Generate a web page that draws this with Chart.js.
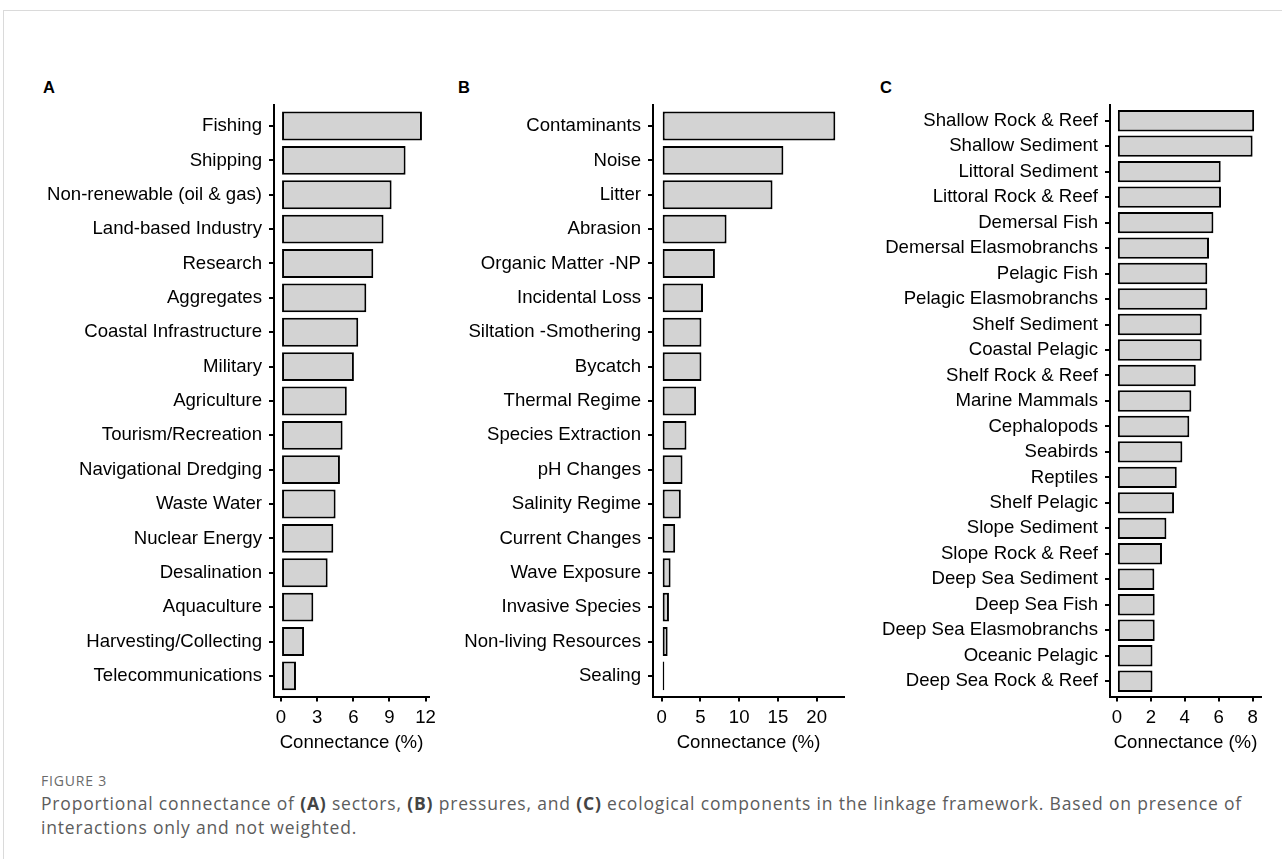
<!DOCTYPE html>
<html lang="en">
<head>
<meta charset="UTF-8">
<title>Figure 3 - Proportional connectance</title>
<script src="https://cdn.jsdelivr.net/npm/chart.js"></script>
<style>
    html, body {
        margin: 0;
        padding: 0;
        background: #fff;
    }
    body {
        width: 1282px;
        height: 859px;
        position: relative;
        overflow: hidden;
        font-family: "Liberation Sans", Arial, sans-serif;
    }
    .card {
        position: absolute;
        left: 3px;
        top: 10px;
        width: 1400px;
        height: 1000px;
        border-left: 1px solid #dadada;
        border-top: 1px solid #dadada;
    }
    .panel {
        position: absolute;
        top: 95px;
        height: 665px;
    }
    .letter {
        position: absolute;
        top: 78px;
        font-size: 16.5px;
        line-height: 18px;
        font-weight: bold;
        color: #000;
    }
    .fig-no {
        position: absolute;
        left: 41px;
        top: 771px;
        font-family: "Open Sans", sans-serif;
        font-size: 14px;
        letter-spacing: 0.8px;
        color: #6a6a6a;
    }
    .caption {
        position: absolute;
        left: 41px;
        top: 791px;
        font-family: "Open Sans", sans-serif;
        font-size: 17.5px;
        letter-spacing: 0.82px;
        line-height: 24px;
        color: #5c5c5c;
        white-space: nowrap;
    }
    .caption b {
        color: #444;
    }
</style>
</head>
<body>
<div class="card"></div>

<div class="letter" style="left:43px">A</div>
<div class="letter" style="left:458px">B</div>
<div class="letter" style="left:880px">C</div>

<canvas id="chart-a" class="panel" width="440" height="665" style="left:0px"></canvas>
<canvas id="chart-b" class="panel" width="420" height="665" style="left:440px"></canvas>
<canvas id="chart-c" class="panel" width="422" height="665" style="left:860px"></canvas>

<div class="fig-no">FIGURE 3</div>
<div class="caption">Proportional connectance of <b>(A)</b> sectors, <b>(B)</b> pressures, and <b>(C)</b> ecological components in the linkage framework. Based on presence of<br>interactions only and not weighted.</div>

<script>
    // (A) sectors
    const sectorLabels = ['Fishing', 'Shipping', 'Non-renewable (oil & gas)', 'Land-based Industry', 'Research',
        'Aggregates', 'Coastal Infrastructure', 'Military', 'Agriculture', 'Tourism/Recreation',
        'Navigational Dredging', 'Waste Water', 'Nuclear Energy', 'Desalination', 'Aquaculture',
        'Harvesting/Collecting', 'Telecommunications'];
    const sectorValues = [11.7, 10.34, 9.18, 8.51, 7.66, 7.08, 6.41, 6.05, 5.46, 5.11, 4.89, 4.53, 4.34, 3.87, 2.68, 1.91, 1.24];
    const sectorTicks = 3;

    // (B) pressures
    const pressureLabels = ['Contaminants', 'Noise', 'Litter', 'Abrasion', 'Organic Matter -NP', 'Incidental Loss',
        'Siltation -Smothering', 'Bycatch', 'Thermal Regime', 'Species Extraction', 'pH Changes',
        'Salinity Regime', 'Current Changes', 'Wave Exposure', 'Invasive Species', 'Non-living Resources', 'Sealing'];
    const pressureValues = [22.4, 15.7, 14.3, 8.37, 6.87, 5.33, 5.13, 5.13, 4.44, 3.2, 2.69, 2.47, 1.74, 1.15, 0.94, 0.77, 0.34];
    const pressureTicks = 5;

    // (C) ecological components
    const componentLabels = ['Shallow Rock & Reef', 'Shallow Sediment', 'Littoral Sediment', 'Littoral Rock & Reef',
        'Demersal Fish', 'Demersal Elasmobranchs', 'Pelagic Fish', 'Pelagic Elasmobranchs', 'Shelf Sediment',
        'Coastal Pelagic', 'Shelf Rock & Reef', 'Marine Mammals', 'Cephalopods', 'Seabirds', 'Reptiles',
        'Shelf Pelagic', 'Slope Sediment', 'Slope Rock & Reef', 'Deep Sea Sediment', 'Deep Sea Fish',
        'Deep Sea Elasmobranchs', 'Oceanic Pelagic', 'Deep Sea Rock & Reef'];
    const componentValues = [8.09, 8.0, 6.12, 6.14, 5.69, 5.43, 5.33, 5.33, 5.0, 5.0, 4.65, 4.39, 4.27, 3.86, 3.53,
        3.37, 2.92, 2.66, 2.21, 2.23, 2.23, 2.1, 2.1];
    const componentTicks = 2;

    const axisFont = { family: '"Liberation Sans", Arial, sans-serif', size: 18.6 };

    function makePanel(id, labels, values, step, yWidth, rightPad) {
        const maxV = Math.max(...values);
        new Chart(document.getElementById(id), {
            type: 'bar',
            data: {
                datasets: [{
                    data: values.map((v, i) => ({ x: v, y: i })),
                    backgroundColor: '#d3d3d3',
                    borderColor: '#000',
                    borderWidth: 2,
                    borderSkipped: false,
                    barPercentage: 0.84,
                    categoryPercentage: 1
                }]
            },
            options: {
                indexAxis: 'y',
                responsive: false,
                animation: false,
                layout: { padding: { top: 10.4, right: rightPad, left: 0, bottom: 0 } },
                plugins: { legend: { display: false }, tooltip: { enabled: false } },
                scales: {
                    y: {
                        type: 'linear',
                        reverse: true,
                        offset: false,
                        min: -0.6,
                        max: labels.length - 0.4,
                        afterFit: s => {
                            s.width = yWidth;
                            s.paddingTop = 0;
                            s.paddingBottom = 0;
                        },
                        grid: { offset: false, drawOnChartArea: false, color: '#000', lineWidth: 2, tickLength: 5 },
                        border: { color: '#000', width: 2 },
                        ticks: {
                            stepSize: 1,
                            includeBounds: false,
                            autoSkip: false,
                            padding: 7,
                            color: '#000',
                            font: axisFont,
                            callback: v => labels[v]
                        }
                    },
                    x: {
                        type: 'linear',
                        min: -0.05 * maxV,
                        max: 1.05 * maxV,
                        afterFit: s => {
                            s.height = 63.5;
                            s.paddingLeft = 0;
                            s.paddingRight = 0;
                        },
                        grid: { drawOnChartArea: false, color: '#000', lineWidth: 2, tickLength: 5 },
                        border: { color: '#000', width: 2 },
                        ticks: {
                            stepSize: step,
                            includeBounds: false,
                            padding: 5,
                            color: '#000',
                            font: axisFont,
                            maxRotation: 0
                        },
                        title: {
                            display: true,
                            text: 'Connectance (%)',
                            color: '#000',
                            font: axisFont,
                            padding: { top: 2, bottom: 6 }
                        }
                    }
                }
            }
        });
    }

    makePanel('chart-a', sectorLabels, sectorValues, sectorTicks, 274, 11);
    makePanel('chart-b', pressureLabels, pressureValues, pressureTicks, 213, 16);
    makePanel('chart-c', componentLabels, componentValues, componentTicks, 250, 21);
</script>
</body>
</html>
